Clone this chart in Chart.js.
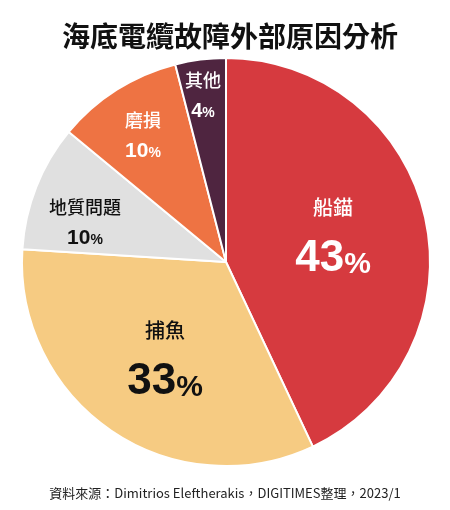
<!DOCTYPE html>
<html><head><meta charset="utf-8">
<script src="https://cdn.jsdelivr.net/npm/chart.js@4"></script>
<style>html,body{margin:0;padding:0;background:#fff}#w{width:450px;height:510px}</style>
</head><body><div id="w"><canvas id="c"></canvas></div>
<script>
const categories = ['船錨','捕魚','地質問題','磨損','其他'];
const values = [43,33,10,10,4];
const colors = ['#d63a3f','#f6cb82','#e0e0e0','#ee7343','#4f2540'];
const title = '海底電纜故障外部原因分析';
const source = '資料來源：Dimitrios Eleftherakis，DIGITIMES整理，2023/1';
const labelPos = [[333,207,44,'#fff'],[165,330,44,'#111'],[85,207,21,'#111'],[143,120,21,'#fff'],[203,80,20,'#fff']];
const F = '"Noto Sans CJK TC","Noto Sans",sans-serif';
const N = '"Liberation Sans",Arial,sans-serif';
const plug = {id:'txt',afterDraw(ch){
  const c=ch.ctx;c.save();c.textAlign='center';c.textBaseline='middle';
  c.fillStyle='#111';c.font='bold 28px '+F;c.fillText(title,230,36);
  c.font='13px '+F;c.fillStyle='#222';c.fillText(source,225,493);
  categories.forEach((n,i)=>{const [x,y,s,col]=labelPos[i];c.fillStyle=col;
    const nameSize = s>=40?20:18;
    c.font='500 '+nameSize+'px '+F;c.textAlign='center';c.fillText(n,x,y);
    const num=String(values[i]);c.font='bold '+s+'px '+N;const w1=c.measureText(num).width;
    c.font='bold '+Math.round(s*0.68)+'px '+N;const w2=c.measureText('%').width;
    const yy=y+(s>=40?52:31);const x0=x-(w1+w2)/2;c.textAlign='left';
    c.font='bold '+s+'px '+N;c.fillText(num,x0,yy);
    c.font='bold '+Math.round(s*0.68)+'px '+N;c.fillText('%',x0+w1,yy+s*0.12);
  });
  c.restore();}};
new Chart(document.getElementById('c'),{type:'pie',
 data:{labels:categories,datasets:[{data:values,backgroundColor:colors,borderColor:'#fff',borderWidth:2}]},
 options:{responsive:true,maintainAspectRatio:false,animation:false,
  layout:{padding:{top:57,bottom:43,left:21,right:19}},
  plugins:{legend:{display:false},tooltip:{enabled:false}}},
 plugins:[plug]});
</script></body></html>
